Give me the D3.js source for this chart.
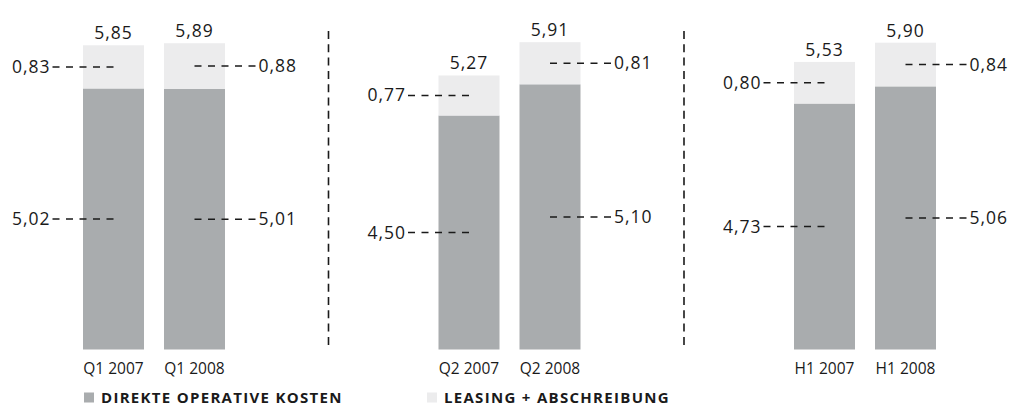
<!DOCTYPE html>
<html>
<head>
<meta charset="utf-8">
<script src="https://cdn.jsdelivr.net/npm/d3@7"></script>
<style>
  html, body { margin: 0; padding: 0; background: #fff; }
  svg { display: block; font-family: "Open Sans", "Noto Sans", sans-serif; }
</style>
</head>
<body>
<svg id="chart" width="1010" height="407"></svg>
<script>
// ---- data ----
const groups = ["Q1", "Q2", "H1"];
const categories = ["Q1 2007", "Q1 2008", "Q2 2007", "Q2 2008", "H1 2007", "H1 2008"];
const direkteKosten = [5.02, 5.01, 4.50, 5.10, 4.73, 5.06];
const leasingAbschreibung = [0.83, 0.88, 0.77, 0.81, 0.80, 0.84];
const totals = [5.85, 5.89, 5.27, 5.91, 5.53, 5.90];
const seriesNames = ["DIREKTE OPERATIVE KOSTEN", "LEASING + ABSCHREIBUNG"];

const fmt = v => d3.format(".2f")(v).replace(".", ",");

const svg = d3.select("#chart");
const colDark = "#a9acae", colLight = "#ececed", ink = "#1a1a1a";

// scales
const y = d3.scaleLinear().domain([0, 6]).range([349.5, 349.5 - 312]);
const gx = d3.scalePoint().domain(groups).range([83, 794]);
const inner = d3.scaleBand().domain([0, 1]).range([0, 142]).paddingInner(20 / 81).paddingOuter(0);
const bw = inner.bandwidth();

const rows = categories.map((c, i) => ({
  cat: c, g: groups[Math.floor(i / 2)], k: i % 2,
  d: direkteKosten[i], l: leasingAbschreibung[i], t: totals[i]
}));
const xOf = r => gx(r.g) + inner(r.k);

// separators
svg.selectAll("line.sep").data(groups.slice(1)).enter().append("line")
  .attr("class", "sep")
  .attr("x1", g => gx(g) - 110).attr("x2", g => gx(g) - 110)
  .attr("y1", 31).attr("y2", y(0))
  .attr("stroke", ink).attr("stroke-width", 1.6)
  .attr("stroke-dasharray", "8,5.3");

// bars
const bar = svg.selectAll("g.bar").data(rows).enter().append("g").attr("class", "bar");
bar.append("rect")
  .attr("x", xOf).attr("width", bw)
  .attr("y", r => y(r.d)).attr("height", r => y(0) - y(r.d))
  .attr("fill", colDark);
bar.append("rect")
  .attr("x", xOf).attr("width", bw)
  .attr("y", r => y(r.d + r.l)).attr("height", r => y(r.d) - y(r.d + r.l))
  .attr("fill", colLight);

// totals
bar.append("text")
  .attr("x", r => xOf(r) + bw / 2).attr("y", r => y(r.d + r.l) - 6)
  .attr("text-anchor", "middle")
  .attr("font-size", 17.5).attr("letter-spacing", 1).attr("fill", ink)
  .text(r => fmt(r.t));

// leaders + value labels
const leaderLen = 61;
function leader(sel, midFn, valFn) {
  sel.append("line")
    .attr("x1", r => xOf(r) + bw / 2)
    .attr("x2", r => xOf(r) + bw / 2 + (r.k === 0 ? -leaderLen : leaderLen))
    .attr("y1", midFn).attr("y2", midFn)
    .attr("stroke", ink).attr("stroke-width", 1.5)
    .attr("stroke-dasharray", "7,6.5");
  sel.append("text")
    .attr("x", r => xOf(r) + bw / 2 + (r.k === 0 ? -(leaderLen + 2) : (leaderLen + 3)))
    .attr("y", r => midFn(r) + 6)
    .attr("text-anchor", r => r.k === 0 ? "end" : "start")
    .attr("font-size", 17.5).attr("letter-spacing", 1).attr("fill", ink)
    .text(valFn);
}
leader(bar, r => (y(r.d) + y(r.d + r.l)) / 2, r => fmt(r.l));
leader(bar, r => (y(0) + y(r.d)) / 2, r => fmt(r.d));

// category labels
bar.append("text")
  .attr("x", r => xOf(r) + bw / 2).attr("y", 373.5)
  .attr("text-anchor", "middle")
  .attr("font-size", 15.5).attr("fill", ink)
  .text(r => r.cat);

// legend
const legX = d3.scaleOrdinal().domain(seriesNames).range([84, 427]);
const legC = d3.scaleOrdinal().domain(seriesNames).range([colDark, colLight]);
const leg = svg.selectAll("g.leg").data(seriesNames).enter().append("g").attr("class", "leg");
leg.append("rect")
  .attr("x", s => legX(s)).attr("y", 392.5).attr("width", 10).attr("height", 10)
  .attr("fill", s => legC(s));
leg.append("text")
  .attr("x", s => legX(s) + 17).attr("y", 402.8)
  .attr("font-size", 15).attr("font-weight", 700).attr("letter-spacing", 1.3).attr("fill", ink)
  .text(s => s);
</script>
</body>
</html>
